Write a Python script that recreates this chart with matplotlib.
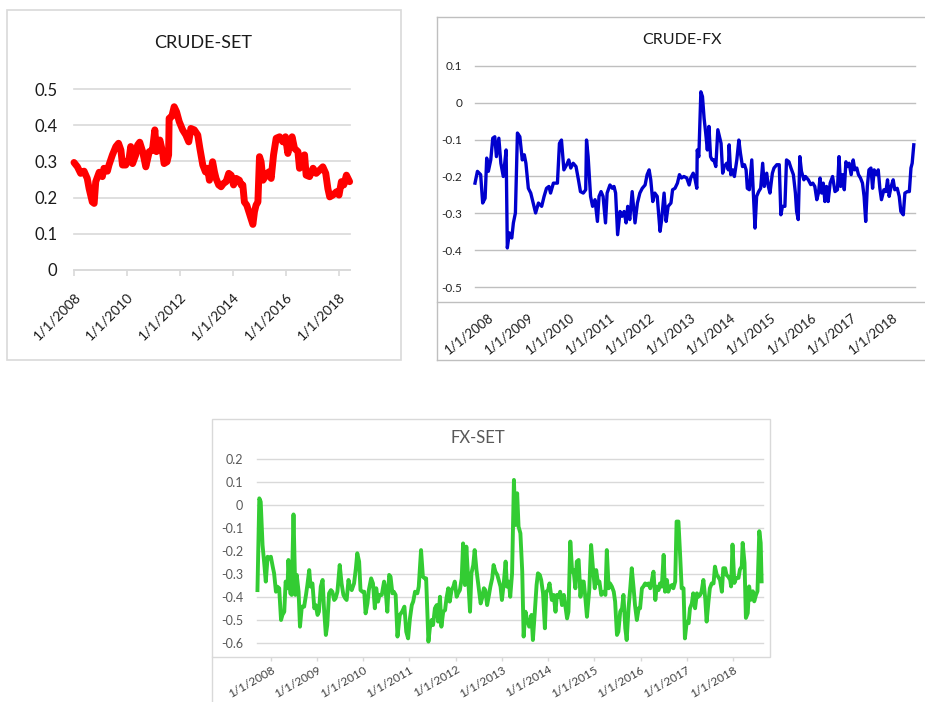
import matplotlib
matplotlib.use("Agg")
import matplotlib.pyplot as plt

W, H = 925, 702

# ---- data (fractional years, correlation values) ----
crude_set_years = [2008.00, 2008.13, 2008.25, 2008.38, 2008.50, 2008.57, 2008.69, 2008.76, 2008.82, 2008.95,
                   2009.07, 2009.13, 2009.26, 2009.32, 2009.45, 2009.58, 2009.68, 2009.77, 2009.83, 2009.95,
                   2010.08, 2010.14, 2010.21, 2010.33, 2010.40, 2010.48, 2010.59, 2010.71, 2010.84, 2010.96,
                   2011.05, 2011.11, 2011.24, 2011.34, 2011.40, 2011.51, 2011.57, 2011.59, 2011.69, 2011.78,
                   2011.87, 2011.97, 2012.10, 2012.22, 2012.33, 2012.41, 2012.54, 2012.67, 2012.75, 2012.86,
                   2012.96, 2013.04, 2013.11, 2013.23, 2013.30, 2013.36, 2013.46, 2013.55, 2013.64, 2013.74,
                   2013.84, 2013.93, 2014.02, 2014.12, 2014.24, 2014.31, 2014.37, 2014.43, 2014.52, 2014.62,
                   2014.68, 2014.75, 2014.81, 2014.87, 2014.94, 2015.00, 2015.06, 2015.13, 2015.25, 2015.35,
                   2015.44, 2015.53, 2015.63, 2015.76, 2015.88, 2015.98, 2016.07, 2016.13, 2016.23, 2016.32,
                   2016.45, 2016.51, 2016.61, 2016.70, 2016.76, 2016.89, 2017.02, 2017.14, 2017.27, 2017.39,
                   2017.50, 2017.58, 2017.65, 2017.77, 2017.90, 2018.00, 2018.09, 2018.18, 2018.28, 2018.40]
crude_set = [0.297, 0.285, 0.267, 0.273, 0.253, 0.225, 0.188, 0.184, 0.244, 0.270,
             0.258, 0.281, 0.273, 0.290, 0.318, 0.341, 0.350, 0.331, 0.290, 0.290,
             0.308, 0.341, 0.294, 0.318, 0.345, 0.353, 0.327, 0.285, 0.327, 0.331,
             0.387, 0.327, 0.359, 0.327, 0.294, 0.299, 0.318, 0.419, 0.424, 0.451,
             0.437, 0.410, 0.387, 0.373, 0.354, 0.391, 0.387, 0.373, 0.336, 0.290,
             0.271, 0.281, 0.248, 0.299, 0.271, 0.253, 0.235, 0.230, 0.239, 0.244,
             0.267, 0.262, 0.235, 0.253, 0.248, 0.235, 0.235, 0.188, 0.179, 0.156,
             0.142, 0.126, 0.161, 0.179, 0.188, 0.313, 0.299, 0.248, 0.262, 0.271,
             0.253, 0.318, 0.364, 0.368, 0.354, 0.368, 0.322, 0.345, 0.368, 0.336,
             0.327, 0.281, 0.313, 0.318, 0.262, 0.258, 0.281, 0.267, 0.276, 0.285,
             0.267, 0.225, 0.202, 0.207, 0.216, 0.207, 0.244, 0.235, 0.262, 0.244]

crude_fx_years = [2007.68, 2007.74, 2007.82, 2007.87, 2007.93, 2007.97, 2008.01, 2008.07, 2008.12, 2008.17,
                  2008.21, 2008.27, 2008.32, 2008.38, 2008.45, 2008.48, 2008.53, 2008.59, 2008.63, 2008.68,
                  2008.73, 2008.79, 2008.85, 2008.90, 2008.94, 2009.00, 2009.06, 2009.12, 2009.18, 2009.25,
                  2009.33, 2009.39, 2009.45, 2009.51, 2009.55, 2009.62, 2009.72, 2009.77, 2009.82, 2009.88,
                  2009.95, 2010.00, 2010.05, 2010.11, 2010.18, 2010.24, 2010.29, 2010.36, 2010.42, 2010.44,
                  2010.48, 2010.54, 2010.59, 2010.65, 2010.71, 2010.75, 2010.80, 2010.85, 2010.91, 2010.95,
                  2011.02, 2011.08, 2011.12, 2011.16, 2011.21, 2011.27, 2011.32, 2011.37, 2011.42, 2011.46,
                  2011.51, 2011.57, 2011.64, 2011.70, 2011.76, 2011.82, 2011.89, 2011.94, 2011.99, 2012.03,
                  2012.08, 2012.13, 2012.19, 2012.26, 2012.30, 2012.36, 2012.41, 2012.46, 2012.53, 2012.57,
                  2012.63, 2012.69, 2012.74, 2012.79, 2012.85, 2012.92, 2012.98, 2013.02, 2013.08, 2013.12,
                  2013.17, 2013.18, 2013.22, 2013.27, 2013.31, 2013.35, 2013.39, 2013.43, 2013.47, 2013.51,
                  2013.55, 2013.59, 2013.64, 2013.69, 2013.73, 2013.77, 2013.81, 2013.85, 2013.91, 2013.95,
                  2013.97, 2014.01, 2014.06, 2014.10, 2014.16, 2014.21, 2014.25, 2014.30, 2014.35, 2014.39,
                  2014.42, 2014.47, 2014.53, 2014.57, 2014.61, 2014.65, 2014.70, 2014.75, 2014.80, 2014.84,
                  2014.90, 2014.94, 2014.98, 2015.04, 2015.08, 2015.15, 2015.21, 2015.25, 2015.29, 2015.35,
                  2015.39, 2015.45, 2015.50, 2015.56, 2015.61, 2015.64, 2015.68, 2015.72, 2015.76, 2015.82,
                  2015.86, 2015.93, 2015.99, 2016.04, 2016.09, 2016.14, 2016.18, 2016.22, 2016.26, 2016.30,
                  2016.34, 2016.38, 2016.42, 2016.47, 2016.53, 2016.59, 2016.65, 2016.69, 2016.73, 2016.78,
                  2016.82, 2016.86, 2016.90, 2016.94, 2016.99, 2017.04, 2017.08, 2017.13, 2017.17, 2017.22,
                  2017.27, 2017.31, 2017.35, 2017.39, 2017.43, 2017.48, 2017.52, 2017.56, 2017.62, 2017.66,
                  2017.70, 2017.74, 2017.80, 2017.85, 2017.89, 2017.93, 2017.98, 2018.03, 2018.07, 2018.13,
                  2018.18, 2018.22, 2018.28, 2018.32, 2018.38, 2018.43, 2018.47, 2018.50, 2018.54]
crude_fx = [-0.218, -0.186, -0.195, -0.272, -0.259, -0.150, -0.186, -0.155, -0.096, -0.092,
            -0.146, -0.096, -0.164, -0.200, -0.128, -0.394, -0.353, -0.367, -0.326, -0.299,
            -0.082, -0.092, -0.155, -0.141, -0.164, -0.232, -0.245, -0.272, -0.299, -0.272,
            -0.281, -0.254, -0.232, -0.227, -0.245, -0.218, -0.218, -0.110, -0.101, -0.182,
            -0.168, -0.155, -0.177, -0.164, -0.173, -0.209, -0.241, -0.245, -0.236, -0.101,
            -0.146, -0.254, -0.281, -0.263, -0.322, -0.254, -0.241, -0.254, -0.326, -0.245,
            -0.223, -0.232, -0.227, -0.245, -0.358, -0.295, -0.308, -0.295, -0.326, -0.281,
            -0.317, -0.241, -0.326, -0.272, -0.245, -0.232, -0.223, -0.195, -0.182, -0.209,
            -0.268, -0.245, -0.254, -0.349, -0.317, -0.245, -0.322, -0.281, -0.272, -0.236,
            -0.232, -0.218, -0.195, -0.204, -0.200, -0.204, -0.223, -0.204, -0.191, -0.204,
            -0.232, -0.128, -0.146, 0.030, 0.017, -0.042, -0.082, -0.128, -0.064, -0.146,
            -0.155, -0.155, -0.173, -0.073, -0.092, -0.110, -0.191, -0.173, -0.164, -0.182,
            -0.114, -0.195, -0.182, -0.200, -0.155, -0.101, -0.137, -0.173, -0.168, -0.182,
            -0.232, -0.236, -0.155, -0.245, -0.340, -0.254, -0.241, -0.232, -0.164, -0.227,
            -0.191, -0.227, -0.245, -0.191, -0.177, -0.168, -0.168, -0.304, -0.281, -0.281,
            -0.155, -0.160, -0.177, -0.195, -0.245, -0.295, -0.317, -0.146, -0.186, -0.209,
            -0.200, -0.209, -0.222, -0.218, -0.227, -0.263, -0.245, -0.204, -0.245, -0.218,
            -0.268, -0.227, -0.268, -0.218, -0.200, -0.241, -0.236, -0.146, -0.227, -0.195,
            -0.236, -0.160, -0.173, -0.164, -0.195, -0.155, -0.182, -0.177, -0.195, -0.204,
            -0.218, -0.254, -0.322, -0.227, -0.182, -0.177, -0.232, -0.182, -0.195, -0.182,
            -0.232, -0.263, -0.236, -0.241, -0.209, -0.254, -0.227, -0.209, -0.236, -0.232,
            -0.254, -0.295, -0.304, -0.245, -0.241, -0.241, -0.177, -0.164, -0.114]

fx_set_years = [2007.71, 2007.75, 2007.78, 2007.82, 2007.86, 2007.89, 2007.93, 2007.96, 2008.00, 2008.04,
                2008.07, 2008.11, 2008.14, 2008.18, 2008.22, 2008.25, 2008.29, 2008.32, 2008.36, 2008.38,
                2008.42, 2008.45, 2008.49, 2008.53, 2008.56, 2008.60, 2008.63, 2008.67, 2008.72, 2008.76,
                2008.79, 2008.83, 2008.86, 2008.90, 2008.94, 2008.97, 2009.01, 2009.04, 2009.08, 2009.12,
                2009.15, 2009.19, 2009.22, 2009.26, 2009.30, 2009.33, 2009.37, 2009.40, 2009.44, 2009.49,
                2009.53, 2009.57, 2009.61, 2009.64, 2009.68, 2009.71, 2009.75, 2009.80, 2009.84, 2009.87,
                2009.91, 2009.94, 2009.98, 2010.02, 2010.05, 2010.09, 2010.12, 2010.17, 2010.21, 2010.25,
                2010.28, 2010.32, 2010.35, 2010.40, 2010.45, 2010.48, 2010.52, 2010.56, 2010.59, 2010.63,
                2010.66, 2010.70, 2010.74, 2010.79, 2010.84, 2010.89, 2010.93, 2010.97, 2011.01,
                2011.05, 2011.08, 2011.12, 2011.17, 2011.20, 2011.25, 2011.29, 2011.33, 2011.36, 2011.41,
                2011.44, 2011.48, 2011.51, 2011.55, 2011.59, 2011.62, 2011.66, 2011.69, 2011.73, 2011.77,
                2011.80, 2011.84, 2011.87, 2011.91, 2011.95, 2011.98, 2012.02, 2012.05, 2012.09, 2012.13,
                2012.16, 2012.20, 2012.23, 2012.27, 2012.31, 2012.34, 2012.38, 2012.41, 2012.45, 2012.50,
                2012.54, 2012.57, 2012.61, 2012.64, 2012.68, 2012.72, 2012.75, 2012.79, 2012.82, 2012.86,
                2012.90, 2012.93, 2012.97, 2013.00, 2013.04, 2013.08, 2013.11, 2013.15, 2013.18, 2013.22,
                2013.26, 2013.29, 2013.33, 2013.36, 2013.40, 2013.44, 2013.47, 2013.51, 2013.54, 2013.59,
                2013.64, 2013.67, 2013.71, 2013.75, 2013.78, 2013.82, 2013.85, 2013.89, 2013.93, 2013.96,
                2014.00, 2014.03, 2014.08, 2014.12, 2014.16, 2014.19, 2014.23, 2014.26, 2014.30, 2014.34,
                2014.41, 2014.44, 2014.48, 2014.52, 2014.55, 2014.59, 2014.62, 2014.66, 2014.70, 2014.73,
                2014.77, 2014.80, 2014.84, 2014.89, 2014.93, 2014.97, 2015.01, 2015.04, 2015.08, 2015.11,
                2015.15, 2015.20, 2015.24, 2015.27, 2015.31, 2015.34, 2015.38, 2015.42, 2015.45, 2015.49,
                2015.52, 2015.56, 2015.60, 2015.63, 2015.67, 2015.70, 2015.74, 2015.78, 2015.81, 2015.85,
                2015.88, 2015.92, 2015.96, 2015.99, 2016.03, 2016.06, 2016.10, 2016.14, 2016.17, 2016.21,
                2016.24, 2016.28, 2016.32, 2016.35, 2016.39, 2016.42, 2016.46, 2016.50, 2016.53, 2016.57,
                2016.60, 2016.64, 2016.68, 2016.71, 2016.75, 2016.78, 2016.82, 2016.86, 2016.89, 2016.93,
                2016.96, 2017.00, 2017.04, 2017.07, 2017.11, 2017.14, 2017.18, 2017.22, 2017.25, 2017.29,
                2017.32, 2017.36, 2017.40, 2017.43, 2017.47, 2017.50, 2017.54, 2017.58, 2017.61, 2017.65,
                2017.68, 2017.72, 2017.76, 2017.79, 2017.83, 2017.86, 2017.90, 2017.94,
                2017.96, 2017.99, 2018.03, 2018.07, 2018.12, 2018.15, 2018.19, 2018.21, 2018.25, 2018.28,
                2018.32, 2018.35, 2018.39, 2018.43, 2018.46, 2018.50, 2018.53, 2018.57, 2018.60, 2018.62]
fx_set = [-0.370, 0.029, 0.014, -0.174, -0.261, -0.333, -0.225, -0.232, -0.225, -0.268,
          -0.297, -0.377, -0.355, -0.362, -0.500, -0.478, -0.464, -0.333, -0.362, -0.239,
          -0.384, -0.391, -0.041, -0.391, -0.304, -0.377, -0.529, -0.442, -0.442, -0.391,
          -0.348, -0.283, -0.355, -0.341, -0.449, -0.435, -0.478, -0.464, -0.355, -0.326,
          -0.449, -0.565, -0.522, -0.384, -0.370, -0.377, -0.413, -0.406, -0.377, -0.261,
          -0.341, -0.391, -0.406, -0.413, -0.326, -0.355, -0.370, -0.341, -0.275, -0.210,
          -0.246, -0.370, -0.377, -0.377, -0.471, -0.428, -0.370, -0.319, -0.341, -0.449,
          -0.362, -0.420, -0.391, -0.391, -0.333, -0.362, -0.464, -0.304, -0.312, -0.384,
          -0.377, -0.391, -0.572, -0.478, -0.464, -0.442, -0.551, -0.580, -0.493,
          -0.435, -0.420, -0.377, -0.384, -0.355, -0.196, -0.312, -0.319, -0.319, -0.594,
          -0.536, -0.500, -0.522, -0.449, -0.435, -0.507, -0.399, -0.529, -0.464, -0.457,
          -0.406, -0.362, -0.420, -0.370, -0.355, -0.333, -0.399, -0.384, -0.370, -0.319,
          -0.167, -0.348, -0.181, -0.319, -0.464, -0.297, -0.261, -0.196, -0.283, -0.362,
          -0.428, -0.406, -0.362, -0.370, -0.435, -0.391, -0.355, -0.319, -0.261, -0.290,
          -0.304, -0.326, -0.355, -0.413, -0.341, -0.246, -0.355, -0.333, -0.399, -0.297,
          0.109, -0.087, 0.051, -0.094, -0.123, -0.290, -0.572, -0.464, -0.493, -0.529,
          -0.478, -0.587, -0.471, -0.348, -0.297, -0.304, -0.326, -0.384, -0.536, -0.377,
          -0.370, -0.341, -0.413, -0.391, -0.464, -0.391, -0.399, -0.377, -0.435, -0.391,
          -0.493, -0.464, -0.159, -0.290, -0.283, -0.362, -0.246, -0.239, -0.399, -0.333,
          -0.333, -0.391, -0.486, -0.370, -0.174, -0.275, -0.362, -0.283, -0.341, -0.333,
          -0.391, -0.377, -0.391, -0.196, -0.362, -0.341, -0.355, -0.377, -0.420, -0.565,
          -0.551, -0.464, -0.449, -0.391, -0.536, -0.587, -0.449, -0.355, -0.275, -0.362,
          -0.435, -0.500, -0.449, -0.449, -0.362, -0.355, -0.341, -0.348, -0.341, -0.362,
          -0.333, -0.290, -0.413, -0.355, -0.370, -0.341, -0.355, -0.217, -0.377, -0.326,
          -0.377, -0.355, -0.348, -0.362, -0.333, -0.072, -0.072, -0.232, -0.362, -0.362,
          -0.580, -0.507, -0.514, -0.449, -0.428, -0.384, -0.449, -0.384, -0.399, -0.391,
          -0.377, -0.326, -0.406, -0.507, -0.420, -0.362, -0.341, -0.341, -0.268, -0.304,
          -0.312, -0.326, -0.377, -0.275, -0.275, -0.304, -0.312, -0.326,
          -0.354, -0.172, -0.339, -0.317, -0.317, -0.281, -0.267, -0.165, -0.252, -0.491,
          -0.470, -0.354, -0.412, -0.375, -0.419, -0.390, -0.375, -0.114, -0.165, -0.332]

set_ticks = [2008, 2010, 2012, 2014, 2016, 2018]
fx_ticks = list(range(2008, 2019))

plt.rcParams['font.family'] = ['Lato', 'DejaVu Sans']


def px_axes(fig, x0, y0, x1, y1):
    # pixel box (top-left origin) -> figure axes
    return fig.add_axes([x0 / W, 1 - y1 / H, (x1 - x0) / W, (y1 - y0) / H])


def style(ax, gridcolor, gw):
    ax.set_facecolor('none')
    for s in ax.spines.values():
        s.set_visible(False)
    ax.grid(axis='y', color=gridcolor, linewidth=gw)
    ax.set_axisbelow(True)
    for gl in ax.get_ygridlines():
        gl.set_clip_on(False)


fig = plt.figure(figsize=(W / 100, H / 100), dpi=100)
fig.patch.set_facecolor('white')

# background layer for frames and titles
bg = fig.add_axes([0, 0, 1, 1])
bg.set_xlim(0, W)
bg.set_ylim(H, 0)
bg.axis('off')

# frames
bg.add_patch(plt.Rectangle((7, 10), 394, 350, fill=False, ec='#d9d9d9', lw=1.2))
for xs, ys in [([437, 925], [17, 17]), ([437, 437], [17, 360]), ([437, 925], [302, 302]),
               ([437, 925], [360, 360])]:
    bg.plot(xs, ys, color='#bfbfbf', lw=1.0)
bg.add_patch(plt.Rectangle((212, 419), 558, 238, fill=False, ec='#d9d9d9', lw=1.0))
bg.plot([212, 212], [657, 702], color='#d9d9d9', lw=1.0)

# titles
bg.text(203, 43, 'CRUDE-SET', ha='center', va='center', fontsize=13, color='#1a1a1a')
bg.text(682, 40, 'CRUDE-FX', ha='center', va='center', fontsize=11.5, color='#1a1a1a')
bg.text(478, 438, 'FX-SET', ha='center', va='center', fontsize=12, color='#595959')

# ---- CRUDE-SET ----
ax1 = px_axes(fig, 74, 89, 349.6, 270)
style(ax1, '#d9d9d9', 1.2)
ax1.plot(crude_set_years, crude_set, color='#ff0000', lw=5.0, solid_joinstyle='round',
         solid_capstyle='round', clip_on=False)
ax1.set_xlim(2008, 2018.40)
ax1.set_ylim(0, 0.5)
ax1.set_yticks([0, 0.1, 0.2, 0.3, 0.4, 0.5])
ax1.set_yticklabels(['0', '0.1', '0.2', '0.3', '0.4', '0.5'])
ax1.spines['bottom'].set_visible(True)
ax1.spines['bottom'].set_color('#d9d9d9')
ax1.spines['bottom'].set_linewidth(1.2)
ax1.set_xticks(set_ticks)
ax1.set_xticklabels([f'1/1/{y}' for y in set_ticks])
ax1.tick_params(axis='y', length=0, pad=12, labelsize=12, labelcolor='#1a1a1a')
ax1.tick_params(axis='x', length=4, width=1.2, color='#d9d9d9', pad=11, labelsize=10,
                labelcolor='#1a1a1a')
plt.setp(ax1.get_xticklabels(), rotation=45, ha='right', va='top', rotation_mode='anchor')

# ---- CRUDE-FX ----
ax2 = px_axes(fig, 475, 66, 915, 287)
style(ax2, '#bfbfbf', 1.0)
ax2.plot(crude_fx_years, crude_fx, color='#0000cd', lw=2.4, clip_on=False)
ax2.set_xlim(2007.68, 2018.57)
ax2.set_ylim(-0.5, 0.1)
ax2.set_yticks([-0.5, -0.4, -0.3, -0.2, -0.1, 0, 0.1])
ax2.set_yticklabels(['-0.5', '-0.4', '-0.3', '-0.2', '-0.1', '0', '0.1'])
ax2.set_xticks(fx_ticks)
ax2.set_xticklabels([f'1/1/{y}' for y in fx_ticks])
ax2.tick_params(axis='y', length=0, pad=9, labelsize=8.5, labelcolor='#262626')
ax2.tick_params(axis='x', length=0, pad=17, labelsize=9.5, labelcolor='#1a1a1a')
plt.setp(ax2.get_xticklabels(), rotation=38, ha='right', va='top', rotation_mode='anchor')

# ---- FX-SET ----
ax3 = px_axes(fig, 257, 459, 763, 657)
style(ax3, '#d9d9d9', 1.0)
ax3.plot(fx_set_years, fx_set, color='#33cc33', lw=2.8, clip_on=False)
ax3.set_xlim(2007.70, 2018.65)
ax3.set_ylim(-0.6 - 0.1 * 14 / 23, 0.2)
ax3.set_yticks([-0.6, -0.5, -0.4, -0.3, -0.2, -0.1, 0, 0.1, 0.2])
ax3.set_yticklabels(['-0.6', '-0.5', '-0.4', '-0.3', '-0.2', '-0.1', '0', '0.1', '0.2'])
ax3.set_xticks(fx_ticks)
ax3.set_xticklabels([f'1/1/{y}' for y in fx_ticks])
ax3.tick_params(axis='y', length=0, pad=10, labelsize=9, labelcolor='#595959')
ax3.tick_params(axis='x', length=3, width=1.0, color='#d9d9d9', pad=2, labelsize=8.5,
                labelcolor='#404040')
plt.setp(ax3.get_xticklabels(), rotation=30, ha='right', va='top', rotation_mode='anchor')

fig.savefig('out.png', dpi=100, facecolor='white')
